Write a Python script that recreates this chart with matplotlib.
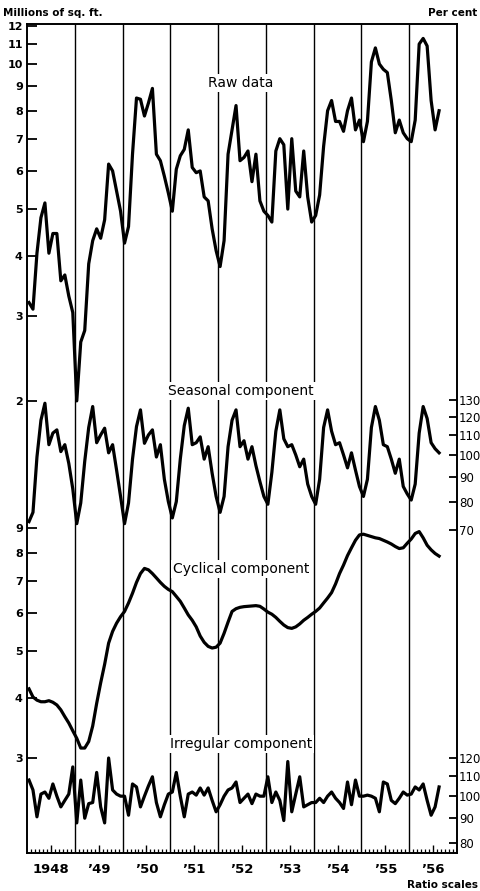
import matplotlib
matplotlib.use("Agg")
import matplotlib.pyplot as plt
import numpy as np

# monthly series, Jan 1948 - Aug 1956
raw = [3.2, 3.1, 4.05, 4.8, 5.15, 4.05, 4.45, 4.45, 3.55, 3.65, 3.3, 3.05,
       2.0, 2.65, 2.8, 3.85, 4.3, 4.55, 4.35, 4.75, 6.2, 6.0, 5.45, 4.95,
       4.25, 4.6, 6.5, 8.5, 8.45, 7.8, 8.3, 8.9, 6.5, 6.3, 5.85, 5.4,
       4.95, 6.05, 6.45, 6.65, 7.3, 6.1, 5.95, 6.0, 5.3, 5.2, 4.55, 4.1,
       3.8, 4.3, 6.5, 7.3, 8.2, 6.3, 6.4, 6.6, 5.7, 6.5, 5.2, 4.95,
       4.85, 4.7, 6.6, 7.0, 6.8, 5.0, 7.0, 5.45, 5.3, 6.6, 5.3, 4.7,
       4.85, 5.35, 6.75, 8.0, 8.4, 7.6, 7.6, 7.25, 8.0, 8.5, 7.3, 7.65,
       6.9, 7.6, 10.1, 10.8, 10.0, 9.75, 9.6, 8.4, 7.2, 7.65, 7.2, 7.0,
       6.9, 7.65, 11.0, 11.3, 10.9, 8.4, 7.3, 8.0]  # millions of sq. ft.

seasonal = [72.7, 76, 99, 118, 128, 105, 111, 112.7, 101.6, 105, 96, 85,
            72, 79.5, 97, 114, 126, 106, 110, 113.6, 101, 105, 93, 82,
            72, 79.5, 98, 114.5, 124, 105.7, 110, 112.7, 99, 105, 89, 80,
            74, 80, 98, 115, 125, 105, 106, 109, 98, 104, 91.6, 82,
            76, 82, 104, 118, 124, 104, 107, 98, 104, 95, 88, 82,
            79, 92, 112, 124, 108, 104, 105, 100, 94.5, 98, 87, 82,
            79, 89, 114, 124, 112, 105, 106, 100, 94, 101, 93, 86,
            82, 89, 114, 126, 118, 105, 104, 98, 91.6, 98, 86, 83,
            80.6, 87, 111, 126, 119, 106, 103, 101]  # per cent

cyclical = [4.18, 4.02, 3.96, 3.93, 3.93, 3.95, 3.92, 3.87, 3.78, 3.66, 3.55, 3.42,
            3.3, 3.15, 3.15, 3.25, 3.5, 3.9, 4.3, 4.7, 5.2, 5.5, 5.72, 5.9,
            6.05, 6.3, 6.6, 6.95, 7.25, 7.43, 7.38, 7.25, 7.1, 6.95, 6.82, 6.72,
            6.65, 6.5, 6.35, 6.15, 5.95, 5.8, 5.62, 5.38, 5.22, 5.12, 5.08, 5.1,
            5.2, 5.45, 5.75, 6.05, 6.13, 6.17, 6.19, 6.2, 6.21, 6.22, 6.2, 6.12,
            6.03, 5.97, 5.88, 5.77, 5.67, 5.6, 5.58, 5.62, 5.7, 5.8, 5.88, 5.97,
            6.05, 6.15, 6.3, 6.45, 6.62, 6.9, 7.25, 7.55, 7.9, 8.2, 8.5, 8.72,
            8.75, 8.7, 8.65, 8.6, 8.57, 8.5, 8.43, 8.35, 8.25, 8.17, 8.2, 8.38,
            8.55, 8.78, 8.86, 8.6, 8.3, 8.12, 7.98, 7.88]  # millions of sq. ft.

irregular = [108, 103, 90.6, 101, 102, 99, 106, 100, 95, 98, 101, 115,
             88, 108, 90, 96.5, 97, 112, 95, 88, 120, 103, 101, 100,
             100, 91.3, 106, 104.5, 95, 100, 105, 109.7, 97, 90.6, 96, 101,
             102, 112, 100, 90.6, 101, 102, 100.5, 104, 100.5, 104, 98, 92.8,
             96, 100, 103, 104, 107, 97, 99, 101, 96.5, 101, 100, 100,
             109.7, 97, 102, 98, 89, 118, 92.8, 101, 109.7, 95, 96, 97,
             97, 99, 97, 100, 102, 99, 97, 94.3, 107, 96, 108, 100,
             100, 100.5, 100, 99, 92.8, 107, 106, 98, 96.5, 99, 102, 100.5,
             101, 104.5, 103, 106, 98, 91.3, 95, 104.5]  # per cent

years = list(range(1948, 1957))
year_labels = ["1948", "\u201949", "\u201950", "\u201951", "\u201952",
               "\u201953", "\u201954", "\u201955", "\u201956"]

raw_ticks = [12, 11, 10, 9, 8, 7, 6, 5, 4, 3, 2]
cyc_ticks = [9, 8, 7, 6, 5, 4, 3]
seas_ticks = [130, 120, 110, 100, 90, 80, 70]
irr_ticks = [120, 110, 100, 90, 80]

# every panel shares one ratio scale, shifted vertically (units = decades)
RAW_OFF = 0.0
SEAS_OFF = 0.189 - 2.0
CYC_OFF = -0.9175
IRR_OFF = -0.519 - 2.0
YTOP = 1.083
YBOT = YTOP - 829 / 482

t = 1948 + (np.arange(len(raw)) + 0.5) / 12

fig = plt.figure(figsize=(4.8, 8.91), dpi=100)
ax = fig.add_axes([27 / 480, 38 / 891, 430 / 480, 829 / 891])
ax.set_xlim(1948, 1957)
ax.set_ylim(YBOT, YTOP)

for yr in years[1:]:
    ax.axvline(yr, color="black", lw=1.0, zorder=1)

lw = 2.3
ax.plot(t, np.log10(raw) + RAW_OFF, color="black", lw=lw, zorder=4)
ax.plot(t, np.log10(seasonal) + SEAS_OFF, color="black", lw=lw, zorder=4)
ax.plot(t, np.log10(cyclical) + CYC_OFF, color="black", lw=lw, zorder=4)
ax.plot(t, np.log10(irregular) + IRR_OFF, color="black", lw=lw, zorder=4)


def px_y(py):
    return YTOP - (py - 24) / 482


label_kw = dict(ha="center", va="center", fontsize=10, zorder=3,
                bbox=dict(facecolor="white", edgecolor="none", pad=1.5))
xc = 1948 + (241 - 27) / 47.8
ax.text(xc, px_y(83), "Raw data", **label_kw)
ax.text(xc, px_y(391), "Seasonal component", **label_kw)
ax.text(xc, px_y(569), "Cyclical component", **label_kw)
ax.text(xc, px_y(744), "Irregular component", **label_kw)

# left scale: millions of sq. ft.
left_pos = [np.log10(v) + RAW_OFF for v in raw_ticks] + \
           [np.log10(v) + CYC_OFF for v in cyc_ticks]
left_lab = [str(v) for v in raw_ticks] + [str(v) for v in cyc_ticks]
ax.set_yticks(left_pos, left_lab, fontweight="bold")
ax.tick_params(axis="y", direction="in", length=7, width=1.3, pad=3,
               labelsize=8)

# right scale: per cent
ax2 = ax.twinx()
ax2.set_ylim(YBOT, YTOP)
right_pos = [np.log10(v) + SEAS_OFF for v in seas_ticks] + \
            [np.log10(v) + IRR_OFF for v in irr_ticks]
right_lab = [str(v) for v in seas_ticks] + [str(v) for v in irr_ticks]
ax2.set_yticks(right_pos, right_lab)
ax2.tick_params(axis="y", direction="in", length=6, width=1.3, pad=1.5,
                labelsize=8.5)

# months along the bottom, taller tick at mid-year
ax.set_xticks([y + 0.5 for y in years], year_labels, fontweight="bold")
ax.set_xticks([y + m / 12 for y in years for m in range(1, 12) if m != 6],
              minor=True)
ax.tick_params(axis="x", which="major", direction="in", length=6, width=1.0,
               pad=7, labelsize=9.5)
ax.tick_params(axis="x", which="minor", direction="in", length=3, width=0.9)
ax.tick_params(top=False)

for a in (ax, ax2):
    for s in a.spines.values():
        s.set_linewidth(1.2)

fig.text(3 / 480, 1 - 13 / 891, "Millions of sq. ft.", fontsize=7.5,
         fontweight="bold", va="center", ha="left")
fig.text(428 / 480, 1 - 13 / 891, "Per cent", fontsize=7.5,
         fontweight="bold", va="center", ha="left")
fig.text(407 / 480, 1 - 885 / 891, "Ratio scales", fontsize=7.5,
         fontweight="bold", va="center", ha="left")

fig.savefig("out.png", dpi=100, facecolor="white")
